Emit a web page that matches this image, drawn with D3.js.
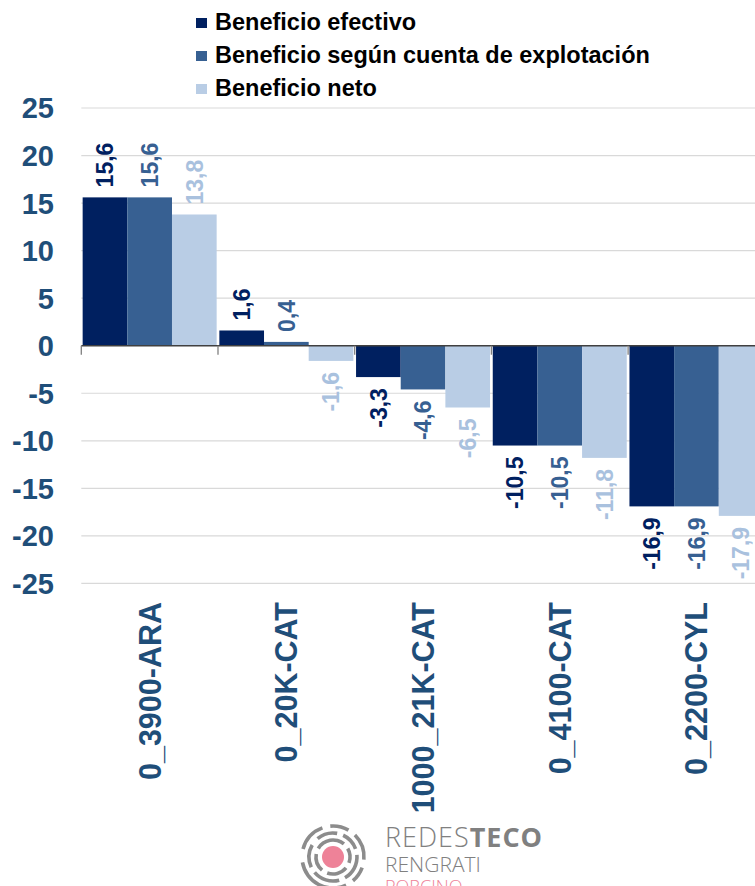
<!DOCTYPE html>
<html><head><meta charset="utf-8">
<script src="https://cdn.jsdelivr.net/npm/d3@7"></script>
<style>html,body{margin:0;padding:0;background:#fff;overflow:hidden}svg{display:block}</style>
</head><body>
<script>
const categories = ["0_3900-ARA","0_20K-CAT","1000_21K-CAT","0_4100-CAT","0_2200-CYL"];
const seriesNames = ["Beneficio efectivo","Beneficio según cuenta de explotación","Beneficio neto"];
const beneficioEfectivo = [15.6, 1.6, -3.3, -10.5, -16.9];
const beneficioCuenta = [15.6, 0.4, -4.6, -10.5, -16.9];
const beneficioNeto = [13.8, -1.6, -6.5, -11.8, -17.9];
const yTicks = [25,20,15,10,5,0,-5,-10,-15,-20,-25];
const barColors = ["#002060","#376092","#B9CDE5"];
const labelColors = ["#002060","#376092","#A9C1DE"];

const W = 755, H = 886;
const FONT = "'Liberation Sans', Arial, sans-serif";
const axisColor = "#1F4E79";
const series = [beneficioEfectivo, beneficioCuenta, beneficioNeto];

const svg = d3.select("body").append("svg").attr("width", W).attr("height", H)
  .style("font-family", FONT);

const plotLeft = 81.3, groupW = 136.7;
const x0 = d3.scaleBand().domain(categories).range([plotLeft, plotLeft + groupW * categories.length]);
const x1 = d3.scaleBand().domain([0,1,2]).range([1.35, groupW - 1.35]);
const y = d3.scaleLinear().domain([-25, 25]).range([583.4, 108]);

// gridlines
svg.append("g").selectAll("line").data(yTicks.filter(d => d !== 0)).join("line")
  .attr("x1", plotLeft).attr("x2", W)
  .attr("y1", d => y(d)).attr("y2", d => y(d))
  .attr("stroke", "#D9D9D9").attr("stroke-width", 1.2);

// y axis labels
svg.append("g").selectAll("text").data(yTicks).join("text")
  .attr("x", 54).attr("y", d => y(d)).attr("dy", "0.36em")
  .attr("text-anchor", "end").attr("font-size", 29).attr("font-weight", "bold")
  .attr("fill", axisColor).text(d => d);

// bars
const groups = svg.append("g").selectAll("g").data(categories).join("g")
  .attr("transform", d => `translate(${x0(d)},0)`);
groups.selectAll("rect").data((c, ci) => series.map((s, si) => ({si, v: s[ci]}))).join("rect")
  .attr("x", d => x1(d.si)).attr("width", x1.bandwidth())
  .attr("y", d => y(Math.max(0, d.v))).attr("height", d => Math.abs(y(d.v) - y(0)))
  .attr("fill", d => barColors[d.si]);

// value labels
const fmt = v => d3.format(".1f")(v).replace(".", ",").replace("−", "-");
groups.selectAll("text.val").data((c, ci) => series.map((s, si) => ({si, v: s[ci]}))).join("text")
  .attr("class", "val")
  .attr("transform", d => {
    const cx = x1(d.si) + x1.bandwidth() / 2;
    const yy = d.v >= 0 ? y(d.v) - 10 : y(d.v) + 11;
    return `translate(${cx},${yy}) rotate(-90)`;
  })
  .attr("dy", "0.36em")
  .attr("text-anchor", d => d.v >= 0 ? "start" : "end")
  .attr("font-size", 23).attr("font-weight", "bold")
  .attr("fill", d => labelColors[d.si]).text(d => fmt(d.v));

// zero axis
svg.append("line").attr("x1", plotLeft).attr("x2", W).attr("y1", y(0)).attr("y2", y(0))
  .attr("stroke", "#404040").attr("stroke-width", 1.5);
svg.append("g").selectAll("line").data(categories).join("line")
  .attr("x1", d => x0(d)).attr("x2", d => x0(d))
  .attr("y1", y(0)).attr("y2", y(0) + 9)
  .attr("stroke", "#808080").attr("stroke-width", 1.3);

// category labels
svg.append("g").selectAll("text").data(categories).join("text")
  .attr("transform", d => `translate(${x0(d) + groupW / 2},602) rotate(-90)`)
  .attr("dy", "0.36em").attr("text-anchor", "end")
  .attr("font-size", 30.5).attr("font-weight", "bold").attr("fill", axisColor)
  .text(d => d);

// legend
const legend = svg.append("g").selectAll("g").data(seriesNames).join("g")
  .attr("transform", (d, i) => `translate(196,${30 + i * 33})`);
legend.append("rect").attr("x", 0).attr("y", -12).attr("width", 11).attr("height", 10)
  .attr("fill", (d, i) => barColors[i]);
legend.append("text").attr("x", 19).attr("y", 0)
  .attr("font-size", 23.5).attr("font-weight", "bold").attr("fill", "#000")
  .text(d => d);

// logo
const logo = svg.append("g").attr("transform", "translate(333,857)");
logo.append("circle").attr("r", 11).attr("fill", "#EE8298");
const arcs = [
  {r: 17, segs: [[-60, 40], [60, 110], [130, 200], [220, 280]]},
  {r: 24, segs: [[-40, 10], [25, 70], [85, 150], [165, 230], [245, 300]]},
  {r: 31, segs: [[-75, -20], [-5, 30], [45, 95], [110, 140], [155, 260]]}
];
const arcGen = d3.arc();
arcs.forEach(a => a.segs.forEach(s => {
  logo.append("path").attr("d", arcGen({innerRadius: a.r - 1.8, outerRadius: a.r + 1.8,
    startAngle: s[0] * Math.PI / 180, endAngle: s[1] * Math.PI / 180}))
    .attr("fill", "#8C8C8C");
}));
const lt = svg.append("text").attr("x", 385).attr("y", 847).attr("font-size", 27)
  .attr("letter-spacing", 1).attr("fill", "#808080").attr("font-family", "'Open Sans', sans-serif");
lt.append("tspan").attr("font-weight", 300).text("REDES");
lt.append("tspan").attr("font-weight", "bold").text("TECO");
svg.append("text").attr("x", 385).attr("y", 872).attr("font-size", 21)
  .attr("fill", "#808080").attr("font-weight", 300).attr("font-family", "'Open Sans', sans-serif").text("RENGRATI");
svg.append("text").attr("x", 385).attr("y", 893).attr("font-size", 18)
  .attr("fill", "#EE8298").attr("font-weight", 300).attr("font-family", "'Open Sans', sans-serif").text("PORCINO");
</script>
</body></html>
